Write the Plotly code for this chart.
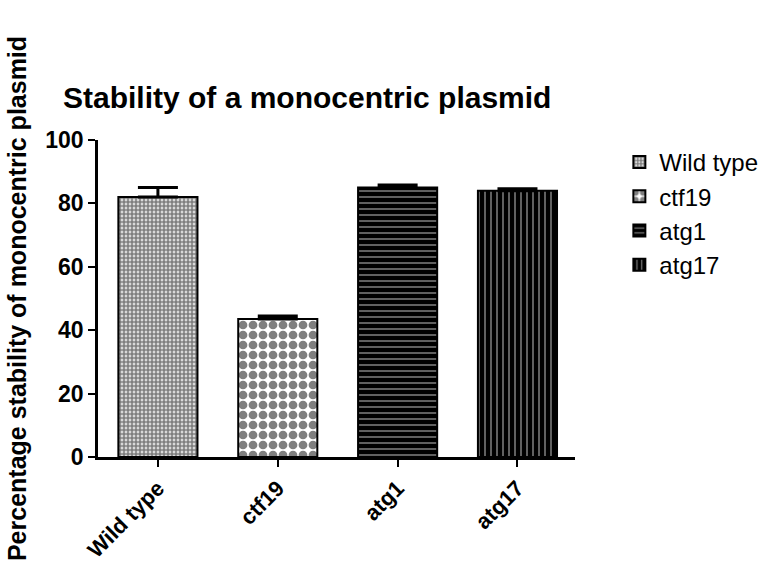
import plotly.graph_objects as go

categories = ["Wild type", "ctf19", "atg1", "atg17"]
values = [82.0, 43.5, 85.0, 84.0]
errors = [3.0, 1.0, 0.8, 0.6]
y_ticks = [0, 20, 40, 60, 80, 100]

patterns = [
    dict(shape=".", fgcolor="black", bgcolor="white", size=4, solidity=0.75),
    dict(shape=".", fgcolor="black", bgcolor="white", size=10, solidity=0.6),
    dict(shape="-", fgcolor="white", bgcolor="black", size=6, solidity=0.25),
    dict(shape="|", fgcolor="white", bgcolor="black", size=6, solidity=0.25),
]

FONT = "Liberation Sans, Arial, sans-serif"

fig = go.Figure()
for cat, v, e, p in zip(categories, values, errors, patterns):
    fig.add_trace(go.Bar(
        x=[cat], y=[v], name=cat,
        width=0.66,
        marker=dict(color="white", line=dict(color="black", width=2), pattern=p),
        error_y=dict(type="data", array=[e], arrayminus=[0], symmetric=False,
                     color="black", thickness=3, width=20),
    ))

fig.update_layout(
    width=770, height=567,
    margin=dict(l=98, r=195, t=140, b=110, autoexpand=False),
    paper_bgcolor="white", plot_bgcolor="white",
    barmode="overlay",
    font=dict(family=FONT, color="black"),
    title=dict(text="<b>Stability of a monocentric plasmid</b>", x=63/770, xanchor="left",
               xref="container", y=1-97/567, yanchor="middle", yref="container",
               font=dict(size=30, color="black", family=FONT)),
    showlegend=True,
    legend=dict(x=1.093, y=1.0, xanchor="left", yanchor="top",
                font=dict(size=24, color="black", family=FONT), bgcolor="rgba(0,0,0,0)"),
)
fig.update_xaxes(
    categoryorder="array", categoryarray=categories, range=[-0.5, 3.48],
    showline=True, linecolor="black", linewidth=2.5, automargin=False,
    ticks="outside", ticklen=7, tickwidth=2, tickcolor="black",
    tickangle=-45, tickfont=dict(size=22, color="black", family=FONT, weight="bold"),
    showgrid=False, zeroline=False,
)
fig.update_yaxes(
    range=[0, 100], tickvals=y_ticks, ticktext=[str(t) for t in y_ticks],
    showline=True, linecolor="black", linewidth=2.5, automargin=False,
    ticks="outside", ticklen=7, tickwidth=2, tickcolor="black",
    tickfont=dict(size=23, color="black", family=FONT, weight="bold"),
    title=dict(text="<b>Percentage stability of monocentric plasmid</b>",
               font=dict(size=25, color="black", family=FONT), standoff=12),
    showgrid=False, zeroline=False,
)
fig.write_html("out.html")
